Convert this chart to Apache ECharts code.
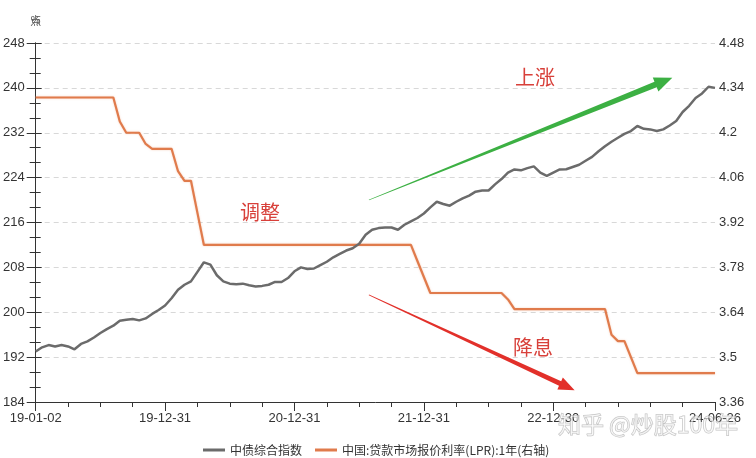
<!DOCTYPE html>
<html>
<head>
<meta charset="utf-8">
<script src="https://cdn.jsdelivr.net/npm/echarts@6/dist/echarts.min.js"></script>
<style>html,body{margin:0;padding:0;background:#fff;}#main{width:756px;height:458px;}</style>
</head>
<body>
<div id="main"></div>
<script>
// x-axis tick labels (positions are sample indices)
const tickLabels = ['19-01-02', '19-12-31', '20-12-31', '21-12-31', '22-12-30', '24-06-26'];
const tickIndex = [0, 20, 40, 60, 80, 105];

// 中债综合指数 (left axis, 点)
const bondIndex = [
  193.0, 193.75, 194.15, 193.9, 194.15, 193.9, 193.4, 194.35, 194.8, 195.5,
  196.3, 197.0, 197.6, 198.5, 198.65, 198.8, 198.55, 198.9, 199.7, 200.4,
  201.2, 202.5, 204.0, 204.9, 205.5, 207.2, 208.9, 208.5, 206.6, 205.5,
  205.1, 205.0, 205.1, 204.8, 204.6, 204.7, 204.9, 205.4, 205.4, 206.1,
  207.3, 208.0, 207.7, 207.8, 208.4, 209.0, 209.8, 210.4, 211.0, 211.4,
  212.2, 213.8, 214.7, 215.0, 215.1, 215.1, 214.7, 215.6, 216.2, 216.8,
  217.6, 218.7, 219.7, 219.3, 219.0, 219.7, 220.3, 220.8, 221.5, 221.7,
  221.7, 222.8, 223.75, 224.9, 225.45, 225.3, 225.7, 226.0, 224.9, 224.3,
  224.9, 225.45, 225.5, 225.9, 226.3, 227.0, 227.7, 228.7, 229.6, 230.4,
  231.1, 231.8, 232.3, 233.2, 232.7, 232.6, 232.3, 232.6, 233.3, 234.1,
  235.7, 236.8, 238.2, 239.0, 240.2, 240.0
];

// 中国:贷款市场报价利率(LPR):1年 (right axis, %)
const lprRate = [
  4.31, 4.31, 4.31, 4.31, 4.31, 4.31, 4.31, 4.31, 4.31, 4.31,
  4.31, 4.31, 4.31, 4.235, 4.20, 4.20, 4.20, 4.165, 4.15, 4.15,
  4.15, 4.15, 4.08, 4.05, 4.05, 3.95, 3.85, 3.85, 3.85, 3.85,
  3.85, 3.85, 3.85, 3.85, 3.85, 3.85, 3.85, 3.85, 3.85, 3.85,
  3.85, 3.85, 3.85, 3.85, 3.85, 3.85, 3.85, 3.85, 3.85, 3.85,
  3.85, 3.85, 3.85, 3.85, 3.85, 3.85, 3.85, 3.85, 3.85, 3.80,
  3.75, 3.70, 3.70, 3.70, 3.70, 3.70, 3.70, 3.70, 3.70, 3.70,
  3.70, 3.70, 3.70, 3.68, 3.65, 3.65, 3.65, 3.65, 3.65, 3.65,
  3.65, 3.65, 3.65, 3.65, 3.65, 3.65, 3.65, 3.65, 3.65, 3.57,
  3.55, 3.55, 3.50, 3.45, 3.45, 3.45, 3.45, 3.45, 3.45, 3.45,
  3.45, 3.45, 3.45, 3.45, 3.45, 3.45
];

const seriesNames = ['中债综合指数', '中国:贷款市场报价利率(LPR):1年(右轴)'];

// annotation arrows in data coordinates [index, 点]
const upArrow = [[51.5, 220.0], [98.4, 241.8]];
const downArrow = [[51.5, 203.1], [83.3, 186.1]];

const labelFont = 'Liberation Sans, Arial, sans-serif';
const cjkFont = '"Noto Sans CJK SC", sans-serif';
const axisColor = '#333';

const chart = echarts.init(document.getElementById('main'), null, {renderer: 'canvas'});

const option = {
  backgroundColor: '#fff',
  animation: false,
  grid: {left: 34, right: 41, top: 43, bottom: 56, containLabel: false},
  legend: {
    data: seriesNames,
    left: 198, top: 439,
    icon: 'rect', itemWidth: 22, itemHeight: 3, itemGap: 13,
    textStyle: {fontSize: 12, color: '#333', fontFamily: cjkFont}
  },
  xAxis: [
    {
      type: 'value', min: 0, max: 105, interval: 5,
      axisLine: {show: true, onZero: false, lineStyle: {color: axisColor, width: 1}},
      axisTick: {show: true, length: 5, lineStyle: {color: axisColor}},
      axisLabel: {show: false},
      splitLine: {show: false}
    },
    {
      type: 'value', min: 0, max: 105, position: 'bottom', offset: 0,
      axisLine: {show: false, onZero: false},
      axisTick: {show: true, length: 9, customValues: tickIndex, lineStyle: {color: axisColor}},
      axisLabel: {
        show: true, margin: 10, customValues: tickIndex,
        fontSize: 13, color: '#333', fontFamily: labelFont,
        formatter: function (v) {
          const k = tickIndex.indexOf(Math.round(v));
          return k >= 0 ? tickLabels[k] : '';
        }
      },
      splitLine: {show: false}
    }
  ],
  yAxis: [
    {
      type: 'value', min: 184, max: 248, interval: 8,
      name: '点', nameLocation: 'end', nameGap: 17,
      nameTextStyle: {fontSize: 11, color: '#555', fontFamily: cjkFont, align: 'center'},
      axisLine: {show: true, lineStyle: {color: axisColor}},
      axisTick: {show: true, length: 9, lineStyle: {color: axisColor}},
      minorTick: {show: true, splitNumber: 3, length: 6, lineStyle: {color: axisColor}},
      axisLabel: {margin: 11, fontSize: 13, color: '#333', fontFamily: labelFont},
      splitLine: {show: true, lineStyle: {color: '#d8d8d8', type: [5, 4]}}
    },
    {
      type: 'value', min: 3.36, max: 4.48, interval: 0.14, position: 'right',
      name: '%', nameLocation: 'end', nameGap: 17,
      nameTextStyle: {fontSize: 11, color: '#555', fontFamily: labelFont, align: 'center'},
      axisLine: {show: true, lineStyle: {color: axisColor}},
      axisTick: {show: true, length: 6, lineStyle: {color: axisColor}},
      minorTick: {show: true, splitNumber: 3, length: 5, lineStyle: {color: axisColor}},
      axisLabel: {margin: 4, fontSize: 13, color: '#333', fontFamily: labelFont},
      splitLine: {show: false}
    }
  ],
  series: [
    {
      name: seriesNames[0], type: 'line', xAxisIndex: 0, yAxisIndex: 0,
      data: bondIndex.map((v, i) => [i, v]),
      symbol: 'none', z: 3,
      lineStyle: {color: '#6b6b6b', width: 2.5},
      itemStyle: {color: '#6b6b6b'}
    },
    {
      name: seriesNames[1], type: 'line', xAxisIndex: 0, yAxisIndex: 1,
      data: lprRate.map((v, i) => [i, v]),
      symbol: 'none', z: 2,
      lineStyle: {color: '#e07b4c', width: 2.2, shadowColor: 'rgba(240,160,120,0.5)', shadowBlur: 2},
      itemStyle: {color: '#e07b4c'}
    }
  ]
};

chart.setOption(option);

function arrowShape(pair, tailHalf, shaftHalf, headHalf, headLen, color) {
  const a = chart.convertToPixel({xAxisIndex: 0, yAxisIndex: 0}, pair[0]);
  const b = chart.convertToPixel({xAxisIndex: 0, yAxisIndex: 0}, pair[1]);
  const dx = b[0] - a[0], dy = b[1] - a[1];
  const len = Math.sqrt(dx * dx + dy * dy);
  const ux = dx / len, uy = dy / len;
  const nx = -uy, ny = ux;
  const bx = b[0] - ux * headLen, by = b[1] - uy * headLen;
  const pts = [
    [a[0] + nx * tailHalf, a[1] + ny * tailHalf],
    [bx + nx * shaftHalf, by + ny * shaftHalf],
    [bx + nx * headHalf, by + ny * headHalf],
    [b[0], b[1]],
    [bx - nx * headHalf, by - ny * headHalf],
    [bx - nx * shaftHalf, by - ny * shaftHalf],
    [a[0] - nx * tailHalf, a[1] - ny * tailHalf]
  ];
  return {type: 'polygon', shape: {points: pts}, style: {fill: color}, z: 100, silent: true};
}

function textEl(txt, x, y, size, color) {
  return {
    type: 'text', x: x, y: y, z: 101, silent: true,
    style: {text: txt, fill: color, font: size + 'px ' + cjkFont, textAlign: 'center', textVerticalAlign: 'middle'}
  };
}

chart.setOption({
  graphic: [
    arrowShape(upArrow, 0.3, 3, 7.5, 18, '#3cb043'),
    arrowShape(downArrow, 0.3, 2.6, 6.5, 16, '#e2302a'),
    textEl('上涨', 535, 77, 20, '#d8403a'),
    textEl('调整', 260, 212, 20, '#d8403a'),
    textEl('降息', 533, 347, 20, '#d8403a'),
    {
      type: 'text', x: 648, y: 424, z: 102, silent: true,
      style: {
        text: '知乎 @炒股100年', font: '23px ' + cjkFont,
        fill: 'rgba(255,255,255,0.55)', stroke: 'rgba(140,140,140,0.55)', lineWidth: 1,
        textAlign: 'center', textVerticalAlign: 'middle'
      }
    }
  ]
});
</script>
</body>
</html>
